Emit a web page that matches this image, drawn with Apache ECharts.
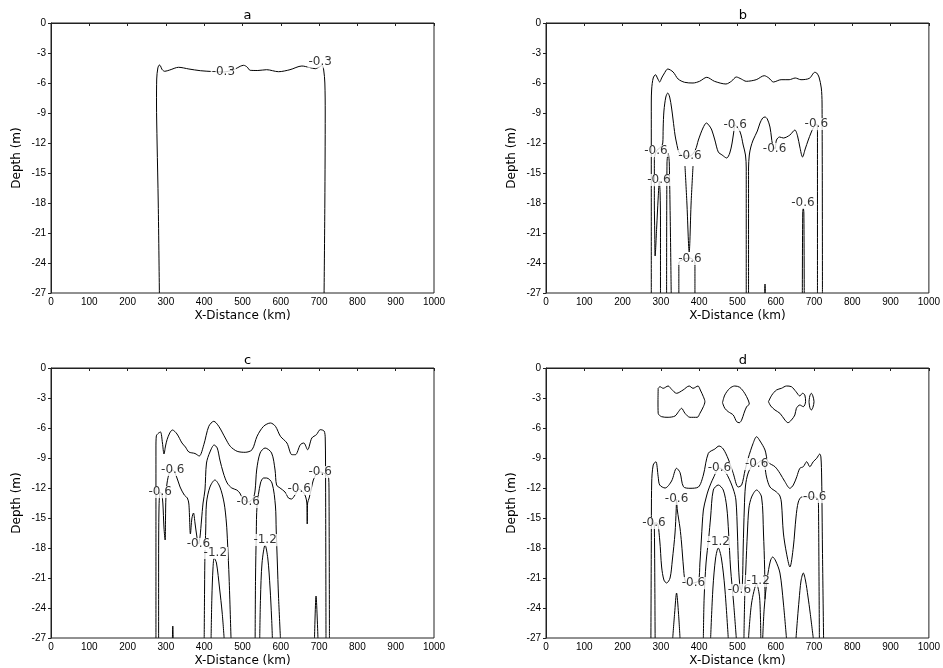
<!DOCTYPE html>
<html><head><meta charset="utf-8">
<script src="https://cdn.jsdelivr.net/npm/echarts@6/dist/echarts.min.js"></script>
<style>html,body{margin:0;padding:0;background:#fff}#c{width:943px;height:668px}</style>
</head><body><div id="c"></div>
<script>
// ---- axes ----
const xMin = 0, xMax = 1000, xStep = 100;
const yMin = -27, yMax = 0, yStep = 3;
const panelTitles = ['a', 'b', 'c', 'd'];

// ---- panel a ----
const aOuter = [[283,-27],[280,-18],[277,-12],[275.5,-8],[276,-5.6],[279,-4.5],[283,-4.2],[286,-4.3],[290,-4.65],[297,-4.83],[310,-4.7],[333,-4.43],[360,-4.6],[390,-4.77],[420,-4.85],[450,-4.9],[478,-4.65],[494,-4.33],[503,-4.23],[512,-4.4],[520,-4.73],[540,-4.75],[563,-4.67],[594,-4.87],[624,-4.67],[655,-4.3],[675,-4.45],[690,-4.57],[700,-4.4],[708,-4.25],[712,-4.7],[715,-6],[716,-9],[715,-18],[713,-27]];
const aLabels = [[450,-4.93,'-0.3'],[703,-3.87,'-0.3']];

// ---- panel b ----
const bOuter = [[275,-27],[275,-15],[275,-8],[276,-6.6],[280,-5.5],[286,-5.17],[291,-5.5],[297,-5.9],[302,-5.5],[308,-5.1],[318,-4.6],[332,-4.9],[345,-5.6],[362,-5.93],[384,-6],[401,-5.83],[420,-5.43],[440,-5.83],[470,-6.1],[485,-5.8],[497,-5.4],[510,-5.6],[523,-5.83],[549,-5.67],[570,-5.27],[582,-5.5],[594,-5.9],[614,-5.67],[635,-5.67],[651,-5.5],[666,-5.67],[688,-5.53],[702,-4.93],[707,-5.0],[713,-5.4],[719,-6.5],[721,-8],[722,-27]];
const bLeft = [[283,-13.5],[283,-18],[284,-21],[285,-23.3],[289,-20.5],[293,-17.5],[296,-15.8],[298,-17],[299,-20],[299,-27]];
const bMain = [[283,-13.5],[287,-12.9],[293,-12.6],[300,-12.4],[305,-12.0],[306,-10.5],[308,-8.8],[313,-7.4],[318,-7.0],[323,-7.4],[328,-8.5],[332,-9.7],[337,-11.2],[341,-12],[348,-13],[360,-13.3],[376,-13.3],[390,-12.7],[398,-11.7],[410,-10.5],[419,-10.0],[427,-10.3],[433,-10.7],[441,-11.7],[450,-12.9],[460,-13.2],[472,-13.5],[480,-13],[486,-12],[490,-11],[494,-10.2],[507,-10.9],[515,-12.2],[521,-13.2],[523,-14.5],[523,-27]];
const bMain2 = [[529,-27],[529,-14.5],[531,-13.2],[535,-12.4],[541,-11.7],[552,-10.8],[559,-10.0],[566,-9.5],[572,-9.4],[578,-9.6],[585,-10.4],[589,-11.5],[591,-12],[598,-12.6],[602,-11.7],[610,-11.4],[620,-11.5],[637,-11.2],[650,-10.7],[657,-11.3],[663,-12.4],[670,-13.4],[677,-12.6],[685,-11.7],[692,-11],[698,-10.5],[707,-10.1],[709,-11],[709,-27]];
const bFinger = [[315,-27],[316,-14],[319,-13],[322,-14],[327,-27]];
const bV = [[363,-14.3],[368,-18],[374,-22.9],[379,-18],[384,-14.3]];
const bLow = [[347,-27],[347,-24],[360,-23.6],[376,-23.5],[389,-24],[389,-27]];
const bSpike = [[571,-27],[572,-26.1],[573,-27]];
const bFinger2 = [[669.5,-27],[670.5,-19],[672,-18.5],[673.5,-19],[674.5,-27]];
const bLabels = [[287,-12.8,'-0.6'],[295,-15.7,'-0.6'],[376,-13.3,'-0.6'],[376,-23.6,'-0.6'],[494,-10.2,'-0.6'],[597,-12.6,'-0.6'],[671,-18.0,'-0.6'],[706,-10.1,'-0.6']];

// ---- panel c ----
const cOuter = [[274,-27],[274,-15],[274,-8],[275,-6.8],[281,-6.5],[286,-6.4],[291,-7.5],[295,-8.6],[299,-7.8],[303,-7.17],[310,-6.5],[317,-6.2],[329,-6.6],[342,-7.5],[351,-7.9],[360,-8.4],[376,-8.55],[387,-8.8],[399,-7.67],[412,-5.83],[425,-5.33],[438,-5.83],[455,-7],[468,-7.83],[486,-8.33],[507,-8.43],[525,-8.17],[538,-6.83],[555,-5.83],[573,-5.5],[586,-5.83],[599,-6.83],[616,-7.5],[629,-8.67],[638,-8.67],[651,-7.67],[660,-7.5],[670,-8.17],[681,-7],[693,-6.67],[703,-6.17],[713,-6.3],[716,-7],[717,-12],[718,-27]];
const cMain = [[281,-27],[281,-20],[282,-14],[285,-12.4],[289,-12.6],[292,-13.5],[295,-16],[298,-17.2],[299,-15],[300,-13],[303,-11.5],[310,-10.4],[318,-10.2],[328,-10.9],[337,-11.9],[348,-12.7],[356,-13.0],[360,-13.6],[364,-16.6],[368,-15],[372,-14.5],[376,-15.5],[381,-16.9],[385,-17.6],[389,-16.9],[393,-15.2],[397,-13.5],[402,-12.2],[406,-9.5],[415,-8.4],[426,-7.7],[434,-8.0],[441,-9.2],[450,-10.5],[460,-11.5],[472,-12.0],[485,-12.2],[493,-12.5],[500,-13],[515,-13.4],[528,-13],[533,-12.2],[537,-10.2],[546,-8.5],[559,-8.0],[576,-8.5],[585,-10.2],[589,-11.7],[598,-12.0],[611,-12.4],[620,-13.0],[628,-13.1],[637,-12.7],[648,-12.1],[660,-12.5],[665,-12.9],[668,-13.5],[669,-15.6],[670,-13.5],[674,-13],[680,-12],[685,-11.2],[695,-10.5],[703,-10.4],[712,-10.5],[725,-11],[726,-13],[727,-27]];
const cLobe1 = [[400,-27],[401,-22],[402,-18.5],[404,-16.2],[406,-13.5],[415,-11.9],[428,-11.2],[441,-11.9],[452,-13.5],[458,-15.5],[461,-17.5],[465,-21],[470,-27]];
const cInner1 = [[418,-27],[420,-23],[423,-20],[426,-19],[432,-19.5],[440,-22],[447,-24.5],[452,-27]];
const cLobe2 = [[533,-27],[534,-21],[536,-16.5],[538,-13.8],[547,-11.5],[555,-11],[563,-11],[577,-11.5],[586,-13.8],[588,-16.2],[591,-19.5],[594,-22.8],[599,-27]];
const cInner2 = [[545,-27],[547,-23],[551,-19.5],[559,-17.7],[566,-19],[572,-22],[576,-25],[578,-27]];
const cSpike1 = [[317,-27],[318,-25.8],[319,-27]];
const cSpike2 = [[688,-27],[692,-22.8],[697,-27]];
const cLabels = [[285,-12.4,'-0.6'],[318,-10.2,'-0.6'],[385,-17.6,'-0.6'],[515,-13.4,'-0.6'],[648,-12.1,'-0.6'],[703,-10.4,'-0.6'],[429,-18.5,'-1.2'],[559,-17.2,'-1.2']];

// ---- panel d ----
const dBlob1 = [[293,-2.03],[297.7,-1.87],[306,-2.03],[319,-1.8],[328,-2.13],[341,-2.53],[358,-2.2],[374,-1.8],[384,-2.03],[397,-1.8],[403,-2.2],[411,-2.87],[415,-3.37],[411,-3.87],[402,-4.53],[395,-4.93],[376,-4.93],[363,-4.53],[354,-4.03],[346,-4.37],[337,-4.8],[319,-4.93],[302,-4.87],[293,-4.53],[292.5,-3.3],[293,-2.03]];
const dBlob2 = [[461,-3.47],[467,-2.7],[480,-2.03],[493,-1.8],[506,-1.93],[519,-2.53],[528,-3.2],[531,-3.6],[524,-3.87],[517,-4.53],[511,-5.2],[505,-5.47],[498,-5.37],[489,-4.7],[476,-4.37],[467,-4.03],[461,-3.47]];
const dBlob3 = [[581,-3.37],[590,-2.7],[602,-2.2],[615,-2.03],[628,-1.8],[641,-1.87],[653,-2.37],[663,-2.8],[670,-2.53],[676,-2.7],[678,-3.37],[672,-3.87],[663,-3.7],[654,-4.03],[650,-4.7],[641,-5.2],[632,-5.47],[624,-5.2],[611,-4.53],[598,-4.2],[587,-3.8],[581,-3.37]];
const dBlob4 = [[687,-3.37],[689,-2.8],[693,-2.53],[697,-2.8],[700,-3.37],[697,-3.95],[693,-4.2],[689,-3.95],[687,-3.37]];
const dOuter = [[274,-27],[275,-18],[276,-11.5],[280,-9.7],[287,-9.37],[293,-10.87],[297,-11.7],[311,-12.0],[328,-11.3],[341,-10.03],[350,-10.45],[359,-11.87],[376,-12.03],[398,-11.9],[411,-10.7],[424,-8.53],[441,-8.1],[452,-7.8],[463,-8.1],[476,-9.1],[489,-10.53],[502,-11.9],[511,-11.7],[520,-10.2],[528,-9.03],[541,-7.53],[550,-6.87],[559,-7.3],[572,-8.2],[580,-9.4],[598,-9.87],[611,-10.53],[624,-11.37],[637,-12.03],[646,-11.7],[655,-10.87],[663,-10.03],[672,-9.87],[681,-9.37],[689,-9.87],[698,-9.37],[707,-9.03],[715,-8.6],[718,-8.9],[720,-11],[722,-18],[725,-27]];
const dMain = [[285,-27],[284,-20],[283,-16],[282,-15.5],[290,-15.5],[297,-17.2],[302,-19.9],[308,-21.2],[315,-21.5],[324,-21.0],[330,-19.2],[337,-16.5],[340,-14.2],[341,-13.1],[343,-14.2],[350,-16],[354,-17.5],[359,-19.9],[363,-21.2],[372,-21.7],[385,-21.5],[398,-21.3],[402,-19.5],[406,-17],[411,-14.2],[418,-13],[424,-12.2],[437,-11.0],[453,-10.0],[466,-10.3],[476,-10.9],[489,-12.1],[496,-13.2],[500,-16.5],[503,-20],[507,-22],[510,-22.2],[513,-21.5],[515,-18],[518,-14],[521,-11.8],[528,-10.5],[540,-9.7],[550,-9.6],[560,-9.3],[567,-9.2],[576,-10.9],[585,-11.9],[602,-12.4],[611,-12.8],[615,-13.5],[620,-16.5],[628,-18.5],[637,-19.9],[646,-17.9],[653,-14.9],[659,-13.4],[668,-12.9],[690,-12.9],[702,-12.9],[711,-13.2],[712,-15],[714,-27]];
const dLobe1 = [[411,-27],[413,-23],[418,-19.5],[425,-17],[430,-14.9],[437,-12.2],[450,-11.7],[463,-12.2],[472,-13.9],[477,-16.5],[482,-20],[490,-23.5],[497,-27]];
const dInner1 = [[430,-27],[436,-22],[443,-19],[450,-18],[458,-19],[467,-22],[476,-27]];
const dLobe2 = [[517,-27],[519,-23],[522,-20],[526,-16.5],[530,-14],[537,-12.9],[550,-12.2],[563,-12.9],[568,-16.5],[571,-20],[572,-23.1]];
const dInner2 = [[529,-27],[537,-23.5],[550,-21.6],[558,-23],[561,-27]];
const dHump1 = [[331,-27],[336,-24.5],[341,-22.5],[346,-24.5],[350,-27]];
const dHump2 = [[566,-27],[570,-24],[578,-21],[586,-19.3],[592,-18.9],[600,-19.3],[611,-20.5],[620,-23.5],[628,-27]];
const dHump3 = [[653,-27],[657,-25],[661,-23.2],[666,-21.3],[672,-20.5],[678,-21.3],[684,-22.8],[690,-24.5],[698,-27]];
const dLabels = [[282,-15.5,'-0.6'],[341,-13.1,'-0.6'],[385,-21.5,'-0.6'],[453,-10.0,'-0.6'],[505,-22.2,'-0.6'],[550,-9.6,'-0.6'],[702,-12.9,'-0.6'],[450,-17.4,'-1.2'],[554,-21.3,'-1.2']];

const panelLines = [
  [aOuter],
  [bOuter, bLeft, bMain, bMain2, bFinger, bV, bLow, bSpike, bFinger2],
  [cOuter, cMain, cLobe1, cInner1, cLobe2, cInner2, cSpike1, cSpike2],
  [dBlob1, dBlob2, dBlob3, dBlob4, dOuter, dMain, dLobe1, dInner1, dLobe2, dInner2, dHump1, dHump2, dHump3]
];
const panelLabels = [aLabels, bLabels, cLabels, dLabels];

// ---- layout ----
const FONT = 'DejaVu Sans';
const TICKFONT = 'Liberation Sans';
const grids = [
  {left: 51, top: 23, width: 383, height: 270},
  {left: 546, top: 23, width: 384, height: 270},
  {left: 51, top: 368, width: 383, height: 270},
  {left: 546, top: 368, width: 384, height: 270}
];

const xAxes = [], yAxes = [], series = [], titles = [];
grids.forEach((g, i) => {
  g.show = true; g.borderColor = '#222'; g.borderWidth = 1; g.containLabel = false;
  xAxes.push({
    type: 'value', gridIndex: i, min: xMin, max: xMax, interval: xStep,
    name: 'X-Distance (km)', nameLocation: 'middle', nameGap: 17,
    nameTextStyle: {fontFamily: FONT, fontSize: 12, color: '#000'},
    axisLine: {show: true, lineStyle: {color: '#222', width: 1}},
    axisTick: {show: true, length: 3, lineStyle: {color: '#222'}},
    axisLabel: {fontFamily: TICKFONT, fontSize: 10, color: '#000', margin: 4, formatter: v => String(v)},
    splitLine: {show: false}
  });
  yAxes.push({
    type: 'value', gridIndex: i, min: yMin, max: yMax, interval: yStep,
    name: 'Depth (m)', nameLocation: 'middle', nameGap: 28, nameRotate: 90,
    nameTextStyle: {fontFamily: FONT, fontSize: 12, color: '#000'},
    axisLine: {show: true, lineStyle: {color: '#222', width: 1}},
    axisTick: {show: true, length: 3, lineStyle: {color: '#222'}},
    axisLabel: {fontFamily: TICKFONT, fontSize: 10, color: '#000', margin: 5, formatter: v => String(v)},
    splitLine: {show: false}
  });
  titles.push({
    text: panelTitles[i], left: g.left + g.width / 2, top: g.top - 19, textAlign: 'center',
    textStyle: {fontFamily: FONT, fontSize: 13, fontWeight: 'normal', color: '#000'}
  });
  panelLines[i].forEach(line => {
    series.push({
      type: 'line', xAxisIndex: i, yAxisIndex: i, data: line,
      symbol: 'none', showSymbol: false, smooth: 0.3, silent: true,
      lineStyle: {color: '#000', width: 1}, z: 2
    });
  });
  series.push({
    type: 'scatter', xAxisIndex: i, yAxisIndex: i, symbolSize: 1, silent: true,
    itemStyle: {color: 'rgba(0,0,0,0)'}, z: 5,
    data: panelLabels[i].map(l => ({value: [l[0], l[1]], name: l[2]})),
    label: {show: true, position: 'inside', formatter: p => p.name,
      fontFamily: FONT, fontSize: 12, color: '#000', backgroundColor: '#fff', padding: [0, 1]}
  });
});

const chart = echarts.init(document.getElementById('c'));
chart.setOption({
  animation: false,
  backgroundColor: '#fff',
  title: titles,
  grid: grids,
  xAxis: xAxes,
  yAxis: yAxes,
  series: series
});
</script>
</body></html>
